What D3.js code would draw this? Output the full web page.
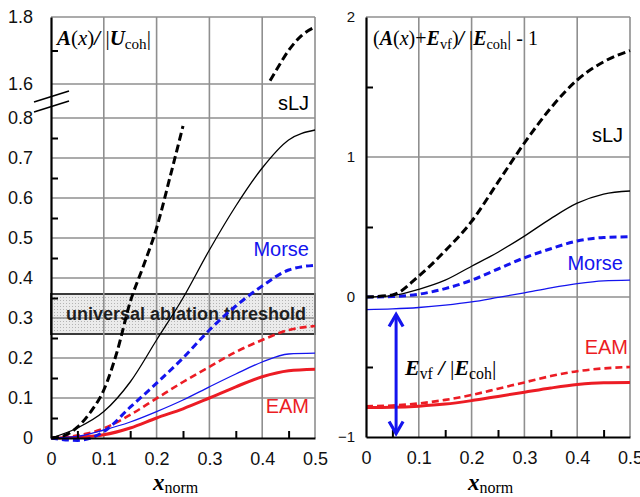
<!DOCTYPE html>
<html>
<head>
<meta charset="utf-8">
<script src="https://cdn.jsdelivr.net/npm/d3@7"></script>
<style>
    body { margin: 0; background: #fff; }
    svg text { font-family: "Liberation Sans", Arial, sans-serif; }
    .serif { font-family: "Liberation Serif", "Times New Roman", serif; }
</style>
</head>
<body>
<div id="chart"></div>
<script>
// ---- values ----
const xNorm = [0, 0.05, 0.1, 0.15, 0.2, 0.25, 0.3, 0.35, 0.4, 0.45, 0.5];

// left panel: A(x)/|U_coh|
const leftSljSolid   = [0, 0.025, 0.066, 0.14, 0.245, 0.35, 0.47, 0.58, 0.675, 0.745, 0.77];
const leftMorseDash  = [0, -0.006, 0.016, 0.077, 0.137, 0.2, 0.27, 0.33, 0.38, 0.42, 0.432];
const leftMorseSolid = [0, 0.004, 0.02, 0.04, 0.066, 0.095, 0.128, 0.16, 0.19, 0.21, 0.212];
const leftEamDash    = [0, 0.006, 0.024, 0.058, 0.099, 0.14, 0.178, 0.215, 0.245, 0.27, 0.28];
const leftEamSolid   = [0, 0.002, 0.008, 0.025, 0.05, 0.073, 0.1, 0.128, 0.153, 0.168, 0.172];
// sLJ dashed runs off the lower range and comes back above the axis break
const sljDashLowX  = [0, 0.025, 0.05, 0.075, 0.1, 0.125, 0.15, 0.175, 0.2, 0.225, 0.25];
const sljDashLowY  = [0, 0.006, 0.027, 0.065, 0.12, 0.215, 0.34, 0.43, 0.525, 0.65, 0.78];
const sljDashHighX = [0.415, 0.43, 0.45, 0.475, 0.5];
const sljDashHighY = [1.61, 1.65, 1.70, 1.745, 1.77];

// right panel: (A(x)+E_vf)/|E_coh| - 1
const rightSljDash    = [0, 0.015, 0.15, 0.33, 0.54, 0.82, 1.1, 1.35, 1.55, 1.68, 1.76];
const rightSljSolid   = [0, 0.01, 0.055, 0.12, 0.22, 0.32, 0.435, 0.56, 0.67, 0.735, 0.757];
const rightMorseDash  = [0, 0.003, 0.02, 0.06, 0.12, 0.2, 0.28, 0.345, 0.40, 0.425, 0.43];
const rightMorseSolid = [-0.09, -0.085, -0.075, -0.058, -0.035, -0.003, 0.03, 0.065, 0.095, 0.115, 0.12];
const rightEamDash    = [-0.78, -0.775, -0.76, -0.735, -0.70, -0.655, -0.61, -0.565, -0.53, -0.51, -0.50];
const rightEamSolid   = [-0.79, -0.788, -0.78, -0.765, -0.74, -0.71, -0.68, -0.65, -0.625, -0.612, -0.61];

// threshold band and E_vf arrow
const thresholdBand = [0.26, 0.36];
const arrowX = 0.057;
const arrowSpan = [-0.125, -0.975];

// ticks
const xLabelTicks = [0, 0.1, 0.2, 0.3, 0.4, 0.5];
const xMinorTicks = [0.05, 0.15, 0.25, 0.35, 0.45];
const leftYLabels = [0, 0.1, 0.2, 0.3, 0.4, 0.5, 0.6, 0.7, 0.8, 1.6, 1.8];
const leftYMinor  = [0.05, 0.15, 0.25, 0.35, 0.45, 0.55, 0.65, 0.75, 1.7];
const leftYGrid   = [0.1, 0.2, 0.3, 0.4, 0.5, 0.6, 0.7, 0.8, 1.6, 1.8];
const rightYLabels = [-1, 0, 1, 2];
const rightYMinor  = [-0.5, 0.5, 1.5];
const rightYGrid   = [0, 1, 2];

const BLUE = "#1414ee", RED = "#ec1c24", GRID = "#8f8f8f";

let svg = d3.select("#chart").append("svg")
    .attr("width", 640)
    .attr("height", 497);

svg.append("defs").append("pattern")
    .attr("id", "band-fill")
    .attr("width", 3).attr("height", 3)
    .attr("patternUnits", "userSpaceOnUse")
    .call(p => {
        p.append("rect").attr("width", 3).attr("height", 3).attr("fill", "#ebebeb");
        p.append("rect").attr("width", 1).attr("height", 1).attr("fill", "#b4b4b4");
    });

let fmt = d => d === 0 ? "0" : (Number.isInteger(d) ? d3.format("d")(d) : d3.format(".1f")(d));

function drawPanel(cfg) {
    let x = d3.scaleLinear().domain([0, 0.5]).range(cfg.xRange);
    let y = d3.scaleLinear().domain(cfg.yDomain).range(cfg.yRange);
    let g = svg.append("g");
    let top = cfg.yRange[cfg.yRange.length - 1], bottom = cfg.yRange[0];

    if (cfg.band) {
        g.append("rect")
            .attr("x", x(0)).attr("width", x(0.5) - x(0))
            .attr("y", y(cfg.band[1])).attr("height", y(cfg.band[0]) - y(cfg.band[1]))
            .attr("fill", "url(#band-fill)")
            .attr("stroke", "#3a3a3a").attr("stroke-width", 2);
    }

    // grid
    g.selectAll(".vgrid").data([0.1, 0.2, 0.3, 0.4, 0.5]).join("line")
        .attr("x1", d => x(d)).attr("x2", d => x(d))
        .attr("y1", top).attr("y2", bottom)
        .attr("stroke", GRID).attr("stroke-width", 1.6);
    g.selectAll(".hgrid").data(cfg.yGrid).join("line")
        .attr("x1", x(0)).attr("x2", x(0.5))
        .attr("y1", d => y(d)).attr("y2", d => y(d))
        .attr("stroke", GRID).attr("stroke-width", 1.6);

    if (cfg.band) {
        g.append("text")
            .attr("x", (x(0) + x(0.5)) / 2 + 3)
            .attr("y", y((cfg.band[0] + cfg.band[1]) / 2) + 6)
            .attr("text-anchor", "middle")
            .attr("font-size", 18).attr("font-weight", "bold")
            .attr("fill", "#1e1e1e")
            .text("universal ablation threshold");
    }

    // curves
    let line = d3.line().curve(d3.curveMonotoneX)
        .x(d => x(d[0])).y(d => y(d[1]));
    cfg.series.forEach(s => {
        let pts = s.xs.map((v, i) => [v, s.ys[i]]);
        g.append("path")
            .datum(pts)
            .attr("d", line)
            .attr("fill", "none")
            .attr("stroke", s.color)
            .attr("stroke-width", s.width)
            .attr("stroke-dasharray", s.dash || null);
    });

    // axes: labels, then inward minor ticks
    let yAx = g.append("g").attr("transform", "translate(" + x(0) + ",0)")
        .call(d3.axisLeft(y).tickValues(cfg.yLabels).tickSize(0)
            .tickPadding(cfg.yPad).tickFormat(fmt));
    yAx.select(".domain").attr("stroke", "#000").attr("stroke-width", 2.2);
    yAx.selectAll("text").attr("font-size", cfg.yFont).attr("fill", "#111")
        .attr("font-family", "'Liberation Sans', Arial, sans-serif");
    g.append("g").attr("transform", "translate(" + x(0) + ",0)")
        .call(d3.axisLeft(y).tickValues(cfg.yMinor).tickSizeInner(-7).tickSizeOuter(0).tickFormat(""))
        .call(a => a.select(".domain").remove())
        .selectAll("line").attr("stroke", "#000").attr("stroke-width", 2);

    let xAx = g.append("g").attr("transform", "translate(0," + bottom + ")")
        .call(d3.axisBottom(x).tickValues(xLabelTicks).tickSize(0).tickPadding(14).tickFormat(fmt));
    xAx.select(".domain").attr("stroke", "#000").attr("stroke-width", 2.2);
    xAx.selectAll("text").attr("font-size", 18).attr("fill", "#111")
        .attr("font-family", "'Liberation Sans', Arial, sans-serif");
    g.append("g").attr("transform", "translate(0," + bottom + ")")
        .call(d3.axisBottom(x).tickValues(xMinorTicks).tickSizeInner(-7).tickSizeOuter(0).tickFormat(""))
        .call(a => a.select(".domain").remove())
        .selectAll("line").attr("stroke", "#000").attr("stroke-width", 2);

    // x axis title
    let xt = g.append("text").attr("class", "serif")
        .attr("x", x(0.25) - 30).attr("y", 490);
    xt.append("tspan").attr("font-size", 23).attr("font-weight", "bold")
        .attr("font-style", "italic").text("x");
    xt.append("tspan").attr("font-size", 16).attr("dy", 2.5).text("norm");

    // curve names
    cfg.names.forEach(n => {
        g.append("text")
            .attr("x", n.x).attr("y", n.y)
            .attr("text-anchor", "end")
            .attr("font-size", 20)
            .attr("fill", n.color)
            .text(n.text);
    });

    return {x: x, y: y, g: g};
}

// tspan helper for the serif titles
function addParts(text, parts) {
    parts.forEach(p => {
        let t = text.append("tspan").text(p.t);
        if (p.b) t.attr("font-weight", "bold");
        if (p.i) t.attr("font-style", "italic");
        if (p.sub) t.attr("font-size", "0.72em").attr("dy", 4);
        if (p.up) t.attr("dy", -4);
    });
}

// ---- left panel ----
let left = drawPanel({
    xRange: [51, 315],
    yDomain: [0, 0.8, 1.6, 1.8],
    yRange: [438, 118, 84, 17],
    yLabels: leftYLabels, yMinor: leftYMinor, yGrid: leftYGrid,
    yPad: 18, yFont: 18,
    band: thresholdBand,
    series: [
        {xs: xNorm, ys: leftEamSolid, color: RED, width: 3},
        {xs: xNorm, ys: leftEamDash, color: RED, width: 2.6, dash: "7,4"},
        {xs: xNorm, ys: leftMorseSolid, color: BLUE, width: 1.3},
        {xs: xNorm, ys: leftMorseDash, color: BLUE, width: 3, dash: "7,4"},
        {xs: xNorm, ys: leftSljSolid, color: "#000", width: 1.3},
        {xs: sljDashLowX, ys: sljDashLowY, color: "#000", width: 3, dash: "8,4"},
        {xs: sljDashHighX, ys: sljDashHighY, color: "#000", width: 3, dash: "8,4"}
    ],
    names: [
        {text: "sLJ", x: 309, y: 110, color: "#000"},
        {text: "Morse", x: 309, y: 256, color: BLUE},
        {text: "EAM", x: 309, y: 413, color: RED}
    ]
});

// axis break marks
let brk = (left.y(0.8) + left.y(1.6)) / 2;
[-5, 5].forEach(off => {
    left.g.append("line")
        .attr("x1", 34).attr("y1", brk + off + 6)
        .attr("x2", 69).attr("y2", brk + off - 5)
        .attr("stroke", "#000").attr("stroke-width", 1.6);
});

let lt = left.g.append("text").attr("class", "serif")
    .attr("x", 57).attr("y", 45).attr("font-size", 21);
addParts(lt, [
    {t: "A", b: 1, i: 1}, {t: "("}, {t: "x", i: 1}, {t: ")"}, {t: "/", b: 1, i: 1},
    {t: " |"}, {t: "U", b: 1, i: 1}, {t: "coh", sub: 1}, {t: "|", up: 1}
]);

// ---- right panel ----
let right = drawPanel({
    xRange: [366, 630],
    yDomain: [-1, 2],
    yRange: [437, 17],
    yLabels: rightYLabels, yMinor: rightYMinor, yGrid: rightYGrid,
    yPad: 11, yFont: 15,
    series: [
        {xs: xNorm, ys: rightEamSolid, color: RED, width: 3},
        {xs: xNorm, ys: rightEamDash, color: RED, width: 2.6, dash: "7,4"},
        {xs: xNorm, ys: rightMorseSolid, color: BLUE, width: 1.3},
        {xs: xNorm, ys: rightMorseDash, color: BLUE, width: 3, dash: "7,4"},
        {xs: xNorm, ys: rightSljSolid, color: "#000", width: 1.3},
        {xs: xNorm, ys: rightSljDash, color: "#000", width: 3, dash: "8,4"}
    ],
    names: [
        {text: "sLJ", x: 623, y: 142, color: "#000"},
        {text: "Morse", x: 623, y: 270, color: BLUE},
        {text: "EAM", x: 628, y: 354, color: RED}
    ]
});

let rt = right.g.append("text").attr("class", "serif")
    .attr("x", 373).attr("y", 45).attr("font-size", 20);
addParts(rt, [
    {t: "("}, {t: "A", b: 1, i: 1}, {t: "("}, {t: "x", i: 1}, {t: ")+"},
    {t: "E", b: 1, i: 1}, {t: "vf", sub: 1}, {t: ")", up: 1}, {t: "/", b: 1, i: 1},
    {t: " |"}, {t: "E", b: 1, i: 1}, {t: "coh", sub: 1}, {t: "| - 1", up: 1}
]);

// E_vf double arrow
let ax = right.x(arrowX), ay1 = right.y(arrowSpan[0]), ay2 = right.y(arrowSpan[1]);
right.g.append("line")
    .attr("x1", ax).attr("x2", ax).attr("y1", ay1 + 1).attr("y2", ay2 - 1)
    .attr("stroke", BLUE).attr("stroke-width", 3);
right.g.append("path")
    .attr("d", "M" + (ax - 7) + "," + (ay1 + 12) + "L" + ax + "," + ay1 + "L" + (ax + 7) + "," + (ay1 + 12)
        + "M" + (ax - 7) + "," + (ay2 - 12) + "L" + ax + "," + ay2 + "L" + (ax + 7) + "," + (ay2 - 12))
    .attr("fill", "none").attr("stroke", BLUE).attr("stroke-width", 3.2);

let et = right.g.append("text").attr("class", "serif")
    .attr("x", 405).attr("y", 375).attr("font-size", 22);
addParts(et, [
    {t: "E", b: 1, i: 1}, {t: "vf", sub: 1}, {t: " / ", b: 1, i: 1, up: 1},
    {t: "|"}, {t: "E", b: 1, i: 1}, {t: "coh", sub: 1}, {t: "|", up: 1}
]);
</script>
</body>
</html>
